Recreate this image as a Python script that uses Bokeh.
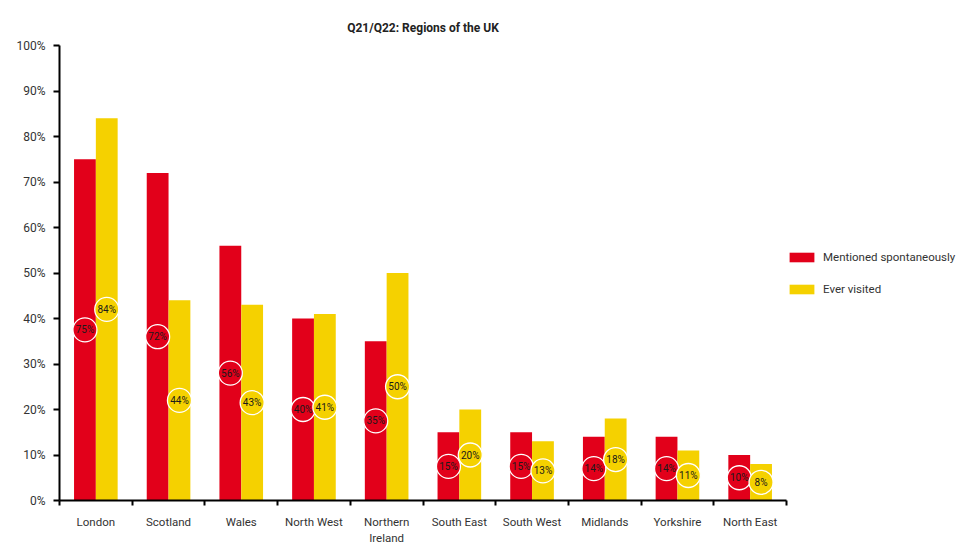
from bokeh.plotting import figure
from bokeh.models import (ColumnDataSource, Range1d, FixedTicker, LinearAxis,
                          PrintfTickFormatter, Legend, LegendItem)
from bokeh.core.properties import value
from bokeh.embed import file_html
from bokeh.resources import INLINE

regions = ["London", "Scotland", "Wales", "North West", "Northern\nIreland",
           "South East", "South West", "Midlands", "Yorkshire", "North East"]
mentioned = [75, 72, 56, 40, 35, 15, 15, 14, 14, 10]
visited = [84, 44, 43, 41, 50, 20, 13, 18, 11, 8]
y_ticks = [0, 10, 20, 30, 40, 50, 60, 70, 80, 90, 100]

RED = "#E2001A"
YELLOW = "#F5D100"
FONT = "Roboto"

n = len(regions)
xc = [i + 0.5 for i in range(n)]
src = ColumnDataSource(dict(
    xr=[x - 0.15 for x in xc], xy=[x + 0.15 for x in xc],
    m=mentioned, v=visited,
    mh=[a / 2 for a in mentioned], vh=[b / 2 for b in visited],
    ml=[f"{a}%" for a in mentioned], vl=[f"{b}%" for b in visited],
))

p = figure(frame_width=727, frame_height=455, output_backend="svg",
           toolbar_location=None,
           x_range=Range1d(0, n), y_range=Range1d(0, 100),
           min_border_left=59, min_border_right=0, min_border_top=45,
           min_border_bottom=46, title="Q21/Q22: Regions of the UK")
p.title.align = "center"
p.title.text_font = FONT
p.title.text_font_size = "12px"
p.title.text_font_style = "bold"
p.title.text_color = "#222222"
p.title.standoff = 22
p.outline_line_color = None
p.xgrid.visible = False
p.ygrid.visible = False

r1 = p.vbar(x="xr", top="m", width=0.3, bottom=0, source=src,
            fill_color=RED, line_color=None)
r2 = p.vbar(x="xy", top="v", width=0.3, bottom=0, source=src,
            fill_color=YELLOW, line_color=None)

p.scatter(x="xr", y="mh", size=24, source=src, fill_color=RED,
          line_color="white", line_width=1.3)
p.scatter(x="xy", y="vh", size=24, source=src, fill_color=YELLOW,
          line_color="white", line_width=1.3)
p.text(x="xr", y="mh", text="ml", source=src, text_align="center",
       text_baseline="middle", text_font=value(FONT), text_font_size="10px",
       text_color="#1a1a1a")
p.text(x="xy", y="vh", text="vl", source=src, text_align="center",
       text_baseline="middle", text_font=value(FONT), text_font_size="10px",
       text_color="#1a1a1a")

# y axis
ya = p.yaxis[0]
ya.ticker = FixedTicker(ticks=y_ticks)
ya.formatter = PrintfTickFormatter(format="%d%%")
ya.axis_line_width = 2
ya.axis_line_color = "black"
ya.major_tick_line_width = 2
ya.major_tick_in = 0
ya.major_tick_out = 6
ya.minor_tick_line_color = None
ya.major_label_text_font = FONT
ya.major_label_text_font_size = "12px"
ya.major_label_text_color = "#333333"
ya.major_label_standoff = 8

# x axis: boundary ticks (no labels)
bounds = list(range(n + 1))
xa = p.xaxis[0]
xa.ticker = FixedTicker(ticks=bounds)
xa.major_label_overrides = {b: "" for b in bounds}
xa.major_label_text_font_size = "1px"
xa.axis_line_width = 2
xa.axis_line_color = "black"
xa.major_tick_line_width = 2
xa.major_tick_in = 0
xa.major_tick_out = 5
xa.minor_tick_line_color = None
xa.major_label_standoff = 0

# category labels axis
xl = LinearAxis(ticker=FixedTicker(ticks=xc),
                major_label_overrides={x: r for x, r in zip(xc, regions)})
xl.axis_line_color = None
xl.major_tick_line_color = None
xl.minor_tick_line_color = None
xl.major_label_text_font = FONT
xl.major_label_text_font_size = "11.5px"
xl.major_label_text_color = "#333333"
xl.major_label_standoff = 3
xl.major_label_text_line_height = 1.15
p.add_layout(xl, "below")

legend = Legend(items=[LegendItem(label="Mentioned spontaneously", renderers=[r1]),
                       LegendItem(label="Ever visited", renderers=[r2])],
                location="left")
legend.glyph_width = 31
legend.glyph_height = 12
legend.label_text_font = FONT
legend.label_text_font_size = "11.5px"
legend.label_text_color = "#333333"
legend.spacing = 18
legend.label_standoff = 6
legend.border_line_color = None
legend.background_fill_alpha = 0
legend.padding = 0
legend.margin = 0
p.add_layout(legend, "right")

open("out.html", "w").write(file_html(p, INLINE))
